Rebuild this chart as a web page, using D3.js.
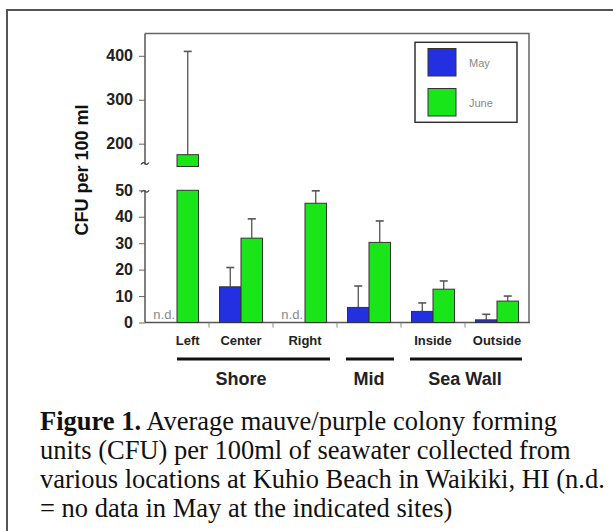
<!DOCTYPE HTML>
<html>
<head>
  <style>
  body {
    margin: 0;
    background: #fff;
  }
  .axis path {
    display: none;
  }
  .axis line {
    stroke: #666;
  }
  .axis text {
    font-family: 'Liberation Sans', Arial, sans-serif;
    font-weight: bold;
    font-size: 16px;
    fill: #222;
  }
  </style>
  <script src="https://cdn.jsdelivr.net/npm/d3@7"></script>
</head>
<body>
  <script type="text/javascript">
  // values
  var sites = ['Left', 'Center', 'Right', 'Mid', 'Inside', 'Outside'];
  var siteLabels = ['Left', 'Center', 'Right', '', 'Inside', 'Outside'];
  var mayMeans = [null, 13.5, null, 5.7, 4.2, 1.0];
  var mayErrTops = [null, 20.8, null, 13.8, 7.4, 3.1];
  var juneMeans = [175, 31.9, 45.1, 30.3, 12.6, 8.1];
  var juneErrTops = [410, 39.2, 49.8, 38.4, 15.7, 10.0];
  var lowerTicks = [0, 10, 20, 30, 40, 50];
  var upperTicks = [200, 300, 400];
  var regionNames = ['Shore', 'Mid', 'Sea Wall'];
  var regionFirst = ['Left', 'Mid', 'Inside'];
  var regionLast = ['Right', 'Mid', 'Outside'];
  var seriesNames = ['May', 'June'];
  var seriesColors = ['#2330e2', '#19e619'];
  var captionLines = [
    ' Average mauve/purple colony forming',
    'units (CFU) per 100ml of seawater collected from',
    'various locations at Kuhio Beach in Waikiki, HI (n.d.',
    '= no data in May at the indicated sites)'
  ];

  function draw() {
    'use strict';
    var width = 613,
        height = 531,
        barW = 21.5,
        lowBreak = 50;

    var svg = d3.select('body')
                .append('svg')
                .attr('width', width)
                .attr('height', height);

    // outer frame of the figure
    svg.append('path')
       .attr('d', 'M7,531 V10 H613')
       .attr('fill', 'none')
       .attr('stroke', '#555')
       .attr('stroke-width', 2);

    var x = d3.scaleBand()
              .domain(sites)
              .range([145, 529]);
    var yLow = d3.scaleLinear()
                 .domain([0, 50])
                 .range([322.5, 190.3]);
    var yHigh = d3.scaleLinear()
                  .domain([200, 400])
                  .range([143.7, 55.8]);
    var upperBottom = 164.5,
        plotTop = 33.5;

    function center(s) {
      return x(s) + x.bandwidth() / 2;
    }

    //frame
    svg.append('path')
       .attr('d', 'M145,' + plotTop + ' H529 V' + yLow(0))
       .attr('fill', 'none')
       .attr('stroke', '#666')
       .attr('stroke-width', 1.5);

    svg.append('line')
       .attr('x1', 145).attr('x2', 145)
       .attr('y1', plotTop).attr('y2', upperBottom)
       .attr('stroke', '#555').attr('stroke-width', 1.5);
    svg.append('line')
       .attr('x1', 145).attr('x2', 145)
       .attr('y1', yLow(50)).attr('y2', yLow(0))
       .attr('stroke', '#555').attr('stroke-width', 1.5);

    // break marks
    [upperBottom, yLow(50)].forEach(function(yb, i) {
      svg.append('path')
         .attr('d', 'M141,' + (yb + (i ? 2 : 0)) + ' q2,-3 4,-1 t4,-1')
         .attr('fill', 'none')
         .attr('stroke', '#444')
         .attr('stroke-width', 1.3);
    });

    svg.append('g')
       .attr('class', 'axis')
       .attr('transform', 'translate(145,0)')
       .call(d3.axisLeft(yLow).tickValues(lowerTicks).tickSize(6).tickPadding(6));
    svg.append('g')
       .attr('class', 'axis')
       .attr('transform', 'translate(145,0)')
       .call(d3.axisLeft(yHigh).tickValues(upperTicks).tickSize(6).tickPadding(6));

    // x baseline + group ticks
    svg.append('line')
       .attr('x1', 145).attr('x2', 530)
       .attr('y1', yLow(0)).attr('y2', yLow(0))
       .attr('stroke', '#555').attr('stroke-width', 1.5);
    svg.selectAll('.xtick')
       .data(sites.slice(1))
       .enter()
       .append('line')
       .attr('x1', function(d) { return x(d); })
       .attr('x2', function(d) { return x(d); })
       .attr('y1', yLow(0))
       .attr('y2', yLow(0) + 5)
       .attr('stroke', '#888');

    // bars
    var bars = [];
    sites.forEach(function(s, i) {
      if (mayMeans[i] !== null) {
        bars.push({site: s, v: mayMeans[i], err: mayErrTops[i], x0: center(s) - barW, c: seriesColors[0]});
      }
      bars.push({site: s, v: juneMeans[i], err: juneErrTops[i], x0: center(s), c: seriesColors[1]});
    });

    var segs = [];
    bars.forEach(function(b) {
      if (b.v > lowBreak) {
        segs.push({x0: b.x0, y0: yLow(lowBreak), y1: yLow(0), c: b.c});
        segs.push({x0: b.x0, y0: yHigh(b.v), y1: upperBottom + 2, c: b.c});
      } else {
        segs.push({x0: b.x0, y0: yLow(b.v), y1: yLow(0), c: b.c});
      }
    });

    // error bars first, bars on top
    var errG = svg.append('g');
    bars.forEach(function(b) {
      var scale = b.v > lowBreak ? yHigh : yLow;
      var cx = b.x0 + barW / 2;
      errG.append('line')
          .attr('x1', cx).attr('x2', cx)
          .attr('y1', scale(b.v)).attr('y2', scale(b.err))
          .attr('stroke', '#555').attr('stroke-width', 1.3);
      errG.append('line')
          .attr('x1', cx - 4).attr('x2', cx + 4)
          .attr('y1', scale(b.err)).attr('y2', scale(b.err))
          .attr('stroke', '#555').attr('stroke-width', 1.6);
    });

    svg.selectAll('.bar')
       .data(segs)
       .enter()
       .append('rect')
       .attr('x', function(d) { return d.x0; })
       .attr('y', function(d) { return d.y0; })
       .attr('width', barW)
       .attr('height', function(d) { return d.y1 - d.y0; })
       .attr('fill', function(d) { return d.c; })
       .attr('stroke', '#333')
       .attr('stroke-width', 1);

    // n.d. markers
    svg.selectAll('.nd')
       .data(sites.filter(function(s, i) { return mayMeans[i] === null; }))
       .enter()
       .append('text')
       .attr('x', function(d) { return center(d) - 2; })
       .attr('y', 319)
       .attr('text-anchor', 'end')
       .style('font-family', "'Liberation Sans', Arial, sans-serif")
       .style('font-size', '13px')
       .style('fill', '#888')
       .text('n.d.');

    // site labels
    svg.selectAll('.site')
       .data(sites)
       .enter()
       .append('text')
       .attr('x', function(d, i) {
         return mayMeans[i] === null && i === 0 ? center(d) + barW / 2 : center(d);
       })
       .attr('y', 345)
       .attr('text-anchor', 'middle')
       .style('font-family', "'Liberation Sans', Arial, sans-serif")
       .style('font-weight', 'bold')
       .style('font-size', '13px')
       .style('fill', '#222')
       .text(function(d, i) { return siteLabels[i]; });

    // region brackets
    regionNames.forEach(function(r, i) {
      var fi = sites.indexOf(regionFirst[i]);
      var xs = mayMeans[fi] === null ? center(regionFirst[i]) : center(regionFirst[i]) - 23;
      var xe = center(regionLast[i]) + 25;
      svg.append('line')
         .attr('x1', xs).attr('x2', xe)
         .attr('y1', 359).attr('y2', 359)
         .attr('stroke', '#111')
         .attr('stroke-width', 3);
      svg.append('text')
         .attr('x', (center(regionFirst[i]) + center(regionLast[i])) / 2)
         .attr('y', 384.5)
         .attr('text-anchor', 'middle')
         .style('font-family', "'Liberation Sans', Arial, sans-serif")
         .style('font-weight', 'bold')
         .style('font-size', '18px')
         .style('fill', '#222')
         .text(r);
    });

    // y title
    svg.append('text')
       .attr('transform', 'translate(82,170) rotate(-90)')
       .attr('text-anchor', 'middle')
       .attr('dominant-baseline', 'central')
       .style('font-family', "'Liberation Sans', Arial, sans-serif")
       .style('font-weight', 'bold')
       .style('font-size', '18px')
       .style('fill', '#111')
       .text('CFU per 100 ml');

    // legend
    var legend = svg.append('g');
    legend.append('rect')
          .attr('x', 415).attr('y', 42.3)
          .attr('width', 102).attr('height', 80)
          .attr('fill', 'none')
          .attr('stroke', '#333')
          .attr('stroke-width', 1.5);
    seriesNames.forEach(function(n, i) {
      legend.append('rect')
            .attr('x', 428).attr('y', 48.5 + i * 40)
            .attr('width', 28).attr('height', 27.5)
            .attr('fill', seriesColors[i])
            .attr('stroke', '#333');
      legend.append('text')
            .attr('x', 469).attr('y', 63 + i * 40)
            .attr('dominant-baseline', 'central')
            .style('font-family', "'Liberation Sans', Arial, sans-serif")
            .style('font-size', '11px')
            .style('fill', '#888')
            .text(n);
    });

    // caption
    var cap = svg.append('text')
                 .style('font-family', "'Liberation Serif', 'Times New Roman', serif")
                 .style('font-size', '26.5px')
                 .style('fill', '#111');
    captionLines.forEach(function(line, i) {
      var t = cap.append('tspan')
                 .attr('x', 40)
                 .attr('y', 430 + i * 29);
      if (i === 0) {
        t.append('tspan').style('font-weight', 'bold').text('Figure 1.');
        cap.append('tspan').text(line);
      } else {
        t.text(line);
      }
    });
  }
  draw();
  </script>
</body>
</html>
